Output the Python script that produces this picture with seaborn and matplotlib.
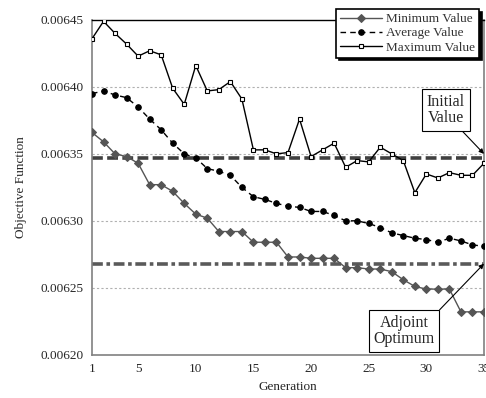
import numpy as np
import pandas as pd
import matplotlib
matplotlib.use("Agg")
import matplotlib.pyplot as plt
import seaborn as sns

generations = list(range(1, 36))
min_values = [0.006366, 0.006359, 0.006350, 0.006348, 0.006343, 0.006327, 0.006327, 0.006322,
              0.006313, 0.006305, 0.006302, 0.006292, 0.006292, 0.006292, 0.006284, 0.006284,
              0.006284, 0.006273, 0.006273, 0.006272, 0.006272, 0.006272, 0.006265, 0.006265,
              0.006264, 0.006264, 0.006262, 0.006256, 0.006251, 0.006249, 0.006249, 0.006249,
              0.006232, 0.006232, 0.006232]
avg_values = [0.006395, 0.006397, 0.006394, 0.006392, 0.006385, 0.006376, 0.006368, 0.006358,
              0.006350, 0.006347, 0.006339, 0.006337, 0.006334, 0.006325, 0.006318, 0.006316,
              0.006313, 0.006311, 0.006310, 0.006307, 0.006307, 0.006304, 0.006300, 0.006300,
              0.006298, 0.006295, 0.006291, 0.006289, 0.006287, 0.006286, 0.006284, 0.006287,
              0.006285, 0.006282, 0.006281]
max_values = [0.006436, 0.006449, 0.006440, 0.006432, 0.006423, 0.006427, 0.006424, 0.006399,
              0.006387, 0.006416, 0.006397, 0.006398, 0.006404, 0.006391, 0.006353, 0.006353,
              0.006350, 0.006351, 0.006376, 0.006348, 0.006353, 0.006358, 0.006340, 0.006345,
              0.006344, 0.006355, 0.006350, 0.006345, 0.006321, 0.006335, 0.006332, 0.006336,
              0.006334, 0.006334, 0.006343]
series_names = ["Minimum Value", "Average Value", "Maximum Value"]
initial_value = 0.006347
adjoint_optimum = 0.006268
y_ticks = [0.00620, 0.00625, 0.00630, 0.00635, 0.00640, 0.00645]
x_ticks = [1, 5, 10, 15, 20, 25, 30, 35]

sns.set_style("white")
plt.rcParams["font.family"] = ["Liberation Serif", "DejaVu Serif"]
plt.rcParams["font.size"] = 9.5

fig = plt.figure(figsize=(4.86, 3.98), dpi=100)
ax = fig.add_axes([92/486, 1 - 354.7/398, 392/486, (354.7 - 20)/398])

df = pd.DataFrame({
    "Generation": generations * 3,
    "Value": min_values + avg_values + max_values,
    "Series": [series_names[0]] * 35 + [series_names[1]] * 35 + [series_names[2]] * 35,
})

# grid lines
for yt in y_ticks[1:-1]:
    ax.axhline(yt, color="#b0b0b0", lw=0.8, ls=(0, (2, 2)), zorder=0)

ax.axhline(initial_value, color="#404040", lw=2.6, ls=(0, (3, 1.2)), zorder=1)
ax.axhline(adjoint_optimum, color="#5a5a5a", lw=2.6, ls=(0, (3, 1, 1, 1)), zorder=1)

sns.lineplot(data=df[df.Series == series_names[0]], x="Generation", y="Value", ax=ax,
             color="#555555", lw=1.0, marker="D", markersize=4, markeredgecolor="#555555",
             markerfacecolor="#555555", label=series_names[0], zorder=3)
sns.lineplot(data=df[df.Series == series_names[1]], x="Generation", y="Value", ax=ax,
             color="black", lw=1.0, ls=(0, (4, 3)), marker="o", markersize=4,
             markeredgecolor="black", markerfacecolor="black", label=series_names[1], zorder=3)
sns.lineplot(data=df[df.Series == series_names[2]], x="Generation", y="Value", ax=ax,
             color="black", lw=1.0, marker="s", markersize=3.5, markeredgecolor="black",
             markerfacecolor="white", markeredgewidth=0.8, label=series_names[2], zorder=3)

ax.set_xlim(1, 35)
ax.set_ylim(0.00620, 0.00645)
ax.set_xticks(x_ticks)
ax.set_xticklabels([str(x) for x in x_ticks])
ax.set_yticks(y_ticks)
ax.set_yticklabels([f"{y:.5f}" for y in y_ticks])
ax.tick_params(axis="both", length=0, pad=6, labelsize=9.5)
ax.set_xlabel("Generation", fontsize=9.5, labelpad=4)
ax.set_ylabel("Objective Function", fontsize=9.5, labelpad=10)

for side in ["left", "right", "bottom"]:
    ax.spines[side].set_color("#808080")
    ax.spines[side].set_linewidth(1.2)
ax.spines["top"].set_color("black")
ax.spines["top"].set_linewidth(1.0)

leg = ax.legend(loc="upper right", bbox_to_anchor=(479/486, 1 - 9/398),
                bbox_transform=fig.transFigure, frameon=True, fancybox=False,
                shadow={"color": "black", "alpha": 1}, fontsize=9.5, handlelength=3.2,
                borderpad=0.3, labelspacing=0.15, handletextpad=0.3, borderaxespad=0)
leg.get_frame().set_edgecolor("black")
leg.get_frame().set_linewidth(1.2)
for t in leg.get_texts():
    t.set_color("#333333")

ax.annotate("Initial\nValue", xy=(35, 0.006350), xycoords="data",
            xytext=(446/486, 1 - 110/398), textcoords="figure fraction",
            ha="center", va="center", fontsize=11.5, linespacing=1.0,
            bbox=dict(boxstyle="square,pad=0.3", fc="white", ec="black", lw=0.8),
            arrowprops=dict(arrowstyle="-|>", color="black", lw=0.8, mutation_scale=7,
                            shrinkA=0, shrinkB=0, relpos=(0.8, 0.0)), zorder=5)
ax.annotate("Adjoint\nOptimum", xy=(35, adjoint_optimum), xycoords="data",
            xytext=(404/486, 1 - 331/398), textcoords="figure fraction",
            ha="center", va="center", fontsize=11.5, linespacing=1.0,
            bbox=dict(boxstyle="square,pad=0.3", fc="white", ec="black", lw=0.8),
            arrowprops=dict(arrowstyle="-|>", color="black", lw=0.8, mutation_scale=7,
                            shrinkA=0, shrinkB=0, relpos=(1.0, 1.0)), zorder=5)

fig.savefig("out.png", dpi=100)
